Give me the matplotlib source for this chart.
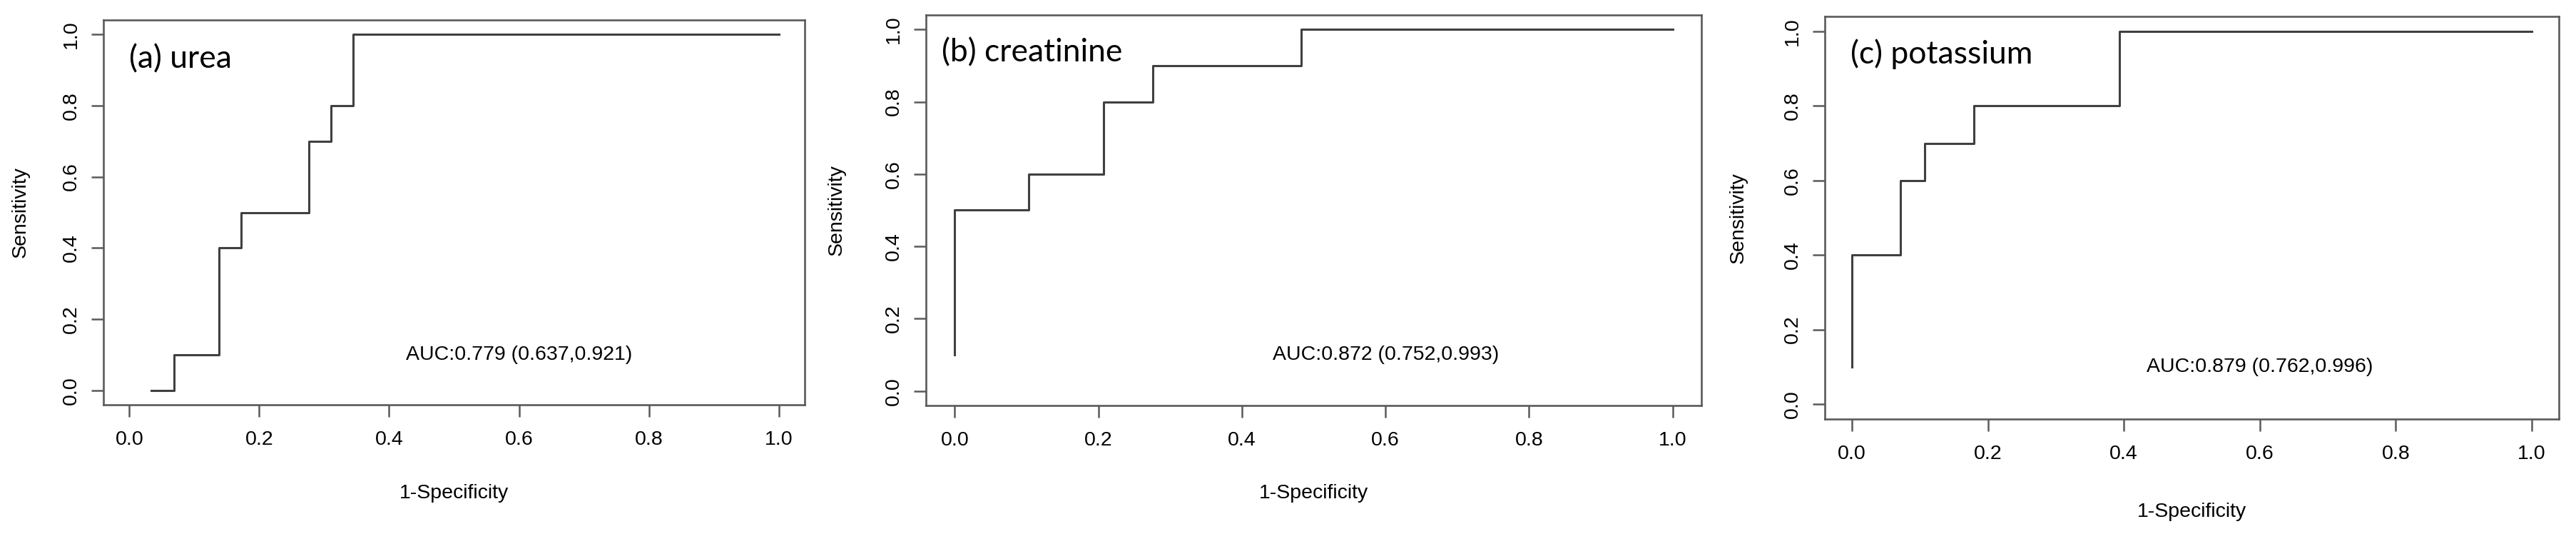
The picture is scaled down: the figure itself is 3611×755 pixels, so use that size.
import matplotlib
matplotlib.use("Agg")
import matplotlib.pyplot as plt

# ROC step curves (1-specificity, sensitivity)
urea_fpr = [0.034, 0.069, 0.138, 0.172, 0.276, 0.310, 0.345, 1.0]
urea_sens = [0.0, 0.1, 0.4, 0.5, 0.7, 0.8, 1.0, 1.0]

creat_fpr = [0.0, 0.0, 0.103, 0.207, 0.276, 0.483, 1.0]
creat_sens = [0.1, 0.5, 0.6, 0.8, 0.9, 1.0, 1.0]

potas_fpr = [0.0, 0.0, 0.071, 0.107, 0.179, 0.393, 1.0]
potas_sens = [0.1, 0.4, 0.6, 0.7, 0.8, 1.0, 1.0]

titles = ["(a) urea", "(b) creatinine", "(c) potassium"]
auc_labels = ["AUC:0.779 (0.637,0.921)",
              "AUC:0.872 (0.752,0.993)",
              "AUC:0.879 (0.762,0.996)"]
ticks = [0.0, 0.2, 0.4, 0.6, 0.8, 1.0]
tick_labels = ["0.0", "0.2", "0.4", "0.6", "0.8", "1.0"]

W, H = 3612, 755
plt.rcParams["font.family"] = ["Liberation Sans", "DejaVu Sans"]

fig = plt.figure(figsize=(W / 100, H / 100), dpi=100)

# panel boxes in pixels: left, right, top, bottom
boxes = [(145, 1128, 28, 567), (1298, 2385, 21, 568), (2558, 3587, 23, 587)]
title_pos = [(0.0, 0.93), (-0.018, 0.935), (-0.002, 0.94)]
xlab_y = [691, 691, 717]
ylab_x = [29, 1173, 2437]

curves = [(urea_fpr, urea_sens), (creat_fpr, creat_sens), (potas_fpr, potas_sens)]
edge = "#5a5a5a"
line_col = "#404040"

for i, (fpr, sens) in enumerate(curves):
    l, r, t, b = boxes[i]
    ax = fig.add_axes([l / W, 1 - b / H, (r - l) / W, (b - t) / H])
    ax.step(fpr, sens, where="post", color=line_col, lw=2.2)
    ax.set_xlim(-0.04, 1.04)
    ax.set_ylim(-0.04, 1.04)
    ax.set_xticks(ticks)
    ax.set_xticklabels(tick_labels)
    ax.set_yticks(ticks)
    ax.set_yticklabels(tick_labels)
    for s in ax.spines.values():
        s.set_color(edge)
        s.set_linewidth(1.9)
    ax.tick_params(direction="out", length=12, width=1.8, color=edge,
                   labelsize=20.5, labelcolor="black")
    ax.tick_params(axis="x", pad=14)
    ax.tick_params(axis="y", pad=11, labelrotation=90)
    for lab in ax.get_yticklabels():
        lab.set_va("center")

    ax.text(title_pos[i][0], title_pos[i][1], titles[i], family="Lato",
            fontsize=32, ha="left", va="center")
    ax.text(0.6, 0.1, auc_labels[i], fontsize=20.5, ha="center", va="center")

    fig.text((l + r) / 2 / W, 1 - xlab_y[i] / H, "1-Specificity",
             fontsize=20.5, ha="center", va="center")
    fig.text(ylab_x[i] / W, 1 - (t + b) / 2 / H, "Sensitivity",
             fontsize=20.5, ha="center", va="center", rotation=90)

fig.savefig("out.png", dpi=100, facecolor="white")
